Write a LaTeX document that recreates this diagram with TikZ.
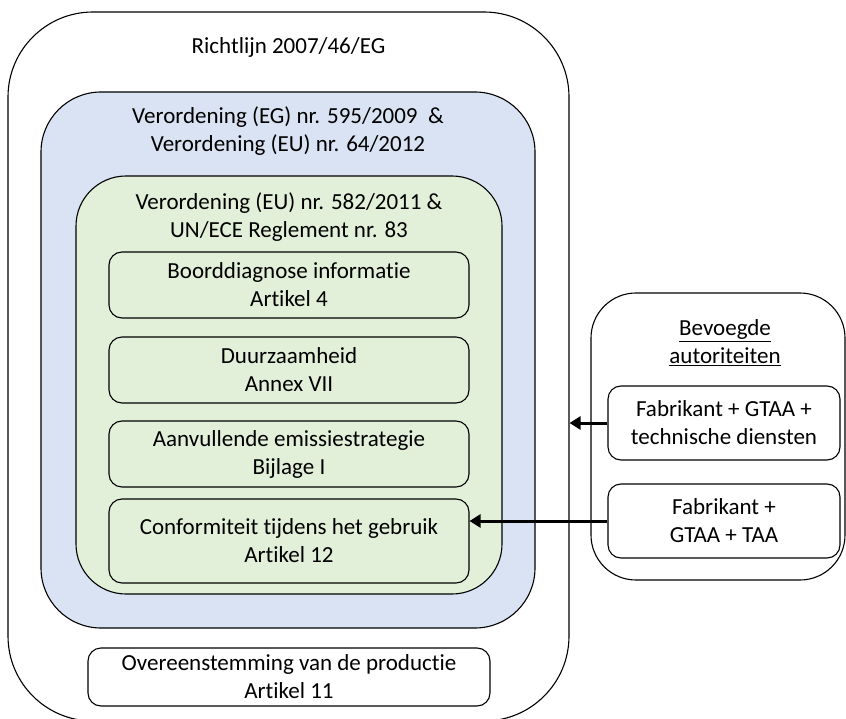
\documentclass[tikz,border=0pt]{standalone}
\usepackage{fontspec}
\setmainfont{Carlito}[Ligatures={NoCommon}]
\usetikzlibrary{arrows.meta,calc}
\definecolor{bluefill}{RGB}{218,227,243}
\definecolor{greenfill}{RGB}{226,239,217}
\tikzset{
  box/.style={draw=black, line width=1.1pt, align=center, inner sep=0pt},
  txt/.style={align=center, inner sep=0pt, font=\fontsize{23}{28}\selectfont},
  arr/.style={line width=3pt, -{Triangle[length=11pt,width=13pt]}}
}
\begin{document}
\begin{tikzpicture}[x=1pt,y=-1pt]
\useasboundingbox (0,0) rectangle (846,719);
\begin{scope}
\clip (0,0) rectangle (846,719);
\node[box, rounded corners=85pt, minimum width=561pt, minimum height=709pt] (outer) at (288.5,366.5) {};
\node[box, rounded corners=45pt, minimum width=254pt, minimum height=287pt] (auth) at (718,436.5) {};
\end{scope}
\node[txt] (t0) at (288.5,47) {Richtlijn 2007/46/EG};
\node[box, fill=bluefill, rounded corners=60pt, minimum width=494pt, minimum height=536pt] (blue) at (288,360) {};
\node[txt] (t1) at (288,131) {Verordening (EG) nr. 595/2009~~\&\\Verordening (EU) nr. 64/2012};
\node[box, fill=greenfill, rounded corners=50pt, minimum width=426pt, minimum height=418pt] (green) at (289,385) {};
\node[txt] (t2) at (289,217) {Verordening (EU) nr. 582/2011 \&\\UN/ECE Reglement nr. 83};
\node[box, txt, draw, line width=1.1pt, rounded corners=13pt, minimum width=360pt, minimum height=66pt] (c1) at (289,285) {Boorddiagnose informatie\\Artikel 4};
\node[box, txt, draw, line width=1.1pt, rounded corners=13pt, minimum width=360pt, minimum height=66pt] (c2) at (289,370) {Duurzaamheid\\Annex VII};
\node[box, txt, draw, line width=1.1pt, rounded corners=13pt, minimum width=360pt, minimum height=66pt] (c3) at (289,454) {Aanvullende emissiestrategie\\Bijlage I};
\node[box, txt, draw, line width=1.1pt, rounded corners=13pt, minimum width=360pt, minimum height=84pt] (c4) at (289,541) {Conformiteit tijdens het gebruik\\Artikel 12};
\node[box, txt, draw, line width=1.1pt, rounded corners=13pt, minimum width=402pt, minimum height=58pt] (prod) at (289,677) {Overeenstemming van de productie\\Artikel 11};
\node[txt] (t3) at (725,343) {\underline{Bevoegde}\\\underline{autoriteiten}};
\node[box, txt, draw, line width=1.1pt, rounded corners=13pt, minimum width=232pt, minimum height=74pt] (fa) at (724,423) {Fabrikant + GTAA +\\technische diensten};
\node[box, txt, draw, line width=1.1pt, rounded corners=13pt, minimum width=232pt, minimum height=74pt] (fb) at (724,521) {Fabrikant +\\GTAA + TAA};
\draw[arr] (fa.west) -- (fa.west -| outer.east);
\draw[arr] (fb.west) -- (fb.west -| c4.east);
\end{tikzpicture}
\end{document}
